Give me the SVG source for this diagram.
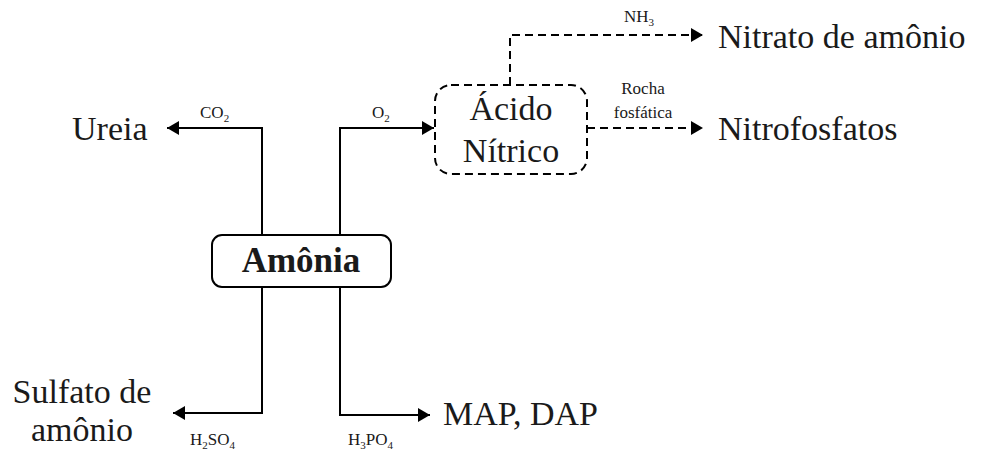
<svg xmlns="http://www.w3.org/2000/svg" width="987" height="450" viewBox="0 0 987 450">
<defs>
<marker id="ah" viewBox="0 0 12 14" refX="12" refY="7" markerWidth="12" markerHeight="14" markerUnits="userSpaceOnUse" orient="auto">
<path d="M0,0 L12,7 L0,14 Z" fill="#000"/>
</marker>
</defs>
<style>
.ln{fill:none;stroke:#000;stroke-width:2}
.ds{fill:none;stroke:#000;stroke-width:2;stroke-dasharray:8,5}
text{font-family:"Liberation Serif","DejaVu Serif",serif;fill:#1a1a1a}
.t{font-size:34px}
.s{font-size:17px}
.sub{font-size:11px}
.b{font-size:35px;font-weight:bold}
</style>
<rect width="987" height="450" fill="#fff"/>
<g id="connectors">
<path class="ln" d="M262,235 V128 H167" marker-end="url(#ah)"/>
<path class="ln" d="M340,235 V128 H434" marker-end="url(#ah)"/>
<path class="ln" d="M262,287 V413 H173" marker-end="url(#ah)"/>
<path class="ln" d="M340,287 V415 H430" marker-end="url(#ah)"/>
<path class="ds" d="M510,85 V35 H703" marker-end="url(#ah)"/>
<path class="ds" d="M587,128 H703" marker-end="url(#ah)"/>
<text class="s" x="200" y="118">CO<tspan class="sub" dy="4">2</tspan></text>
<text class="s" x="372" y="118">O<tspan class="sub" dy="4">2</tspan></text>
<text class="s" x="624" y="22">NH<tspan class="sub" dy="4">3</tspan></text>
<text class="s" x="643" y="94" text-anchor="middle">Rocha</text>
<text class="s" x="643" y="118" text-anchor="middle">fosfática</text>
<text class="s" x="190" y="445">H<tspan class="sub" dy="4">2</tspan><tspan dy="-4">SO</tspan><tspan class="sub" dy="4">4</tspan></text>
<text class="s" x="348" y="445">H<tspan class="sub" dy="4">3</tspan><tspan dy="-4">PO</tspan><tspan class="sub" dy="4">4</tspan></text>
</g>
<g id="amonia">
<rect class="ln" x="212" y="235" width="179" height="52" rx="10"/>
<text class="b" x="301" y="272" text-anchor="middle">Amônia</text>
</g>
<g id="acido-nitrico">
<rect class="ds" x="435" y="85" width="152" height="89" rx="16"/>
<text class="t" x="511" y="120" text-anchor="middle">Ácido</text>
<text class="t" x="511" y="162" text-anchor="middle">Nítrico</text>
</g>
<g id="ureia"><text class="t" x="72" y="140">Ureia</text></g>
<g id="nitrato"><text class="t" x="718" y="48">Nitrato de amônio</text></g>
<g id="nitrofosfatos"><text class="t" x="718" y="140">Nitrofosfatos</text></g>
<g id="map-dap"><text class="t" x="443" y="425">MAP, DAP</text></g>
<g id="sulfato">
<text class="t" x="82" y="403" text-anchor="middle">Sulfato de</text>
<text class="t" x="82" y="441" text-anchor="middle">amônio</text>
</g>
</svg>
